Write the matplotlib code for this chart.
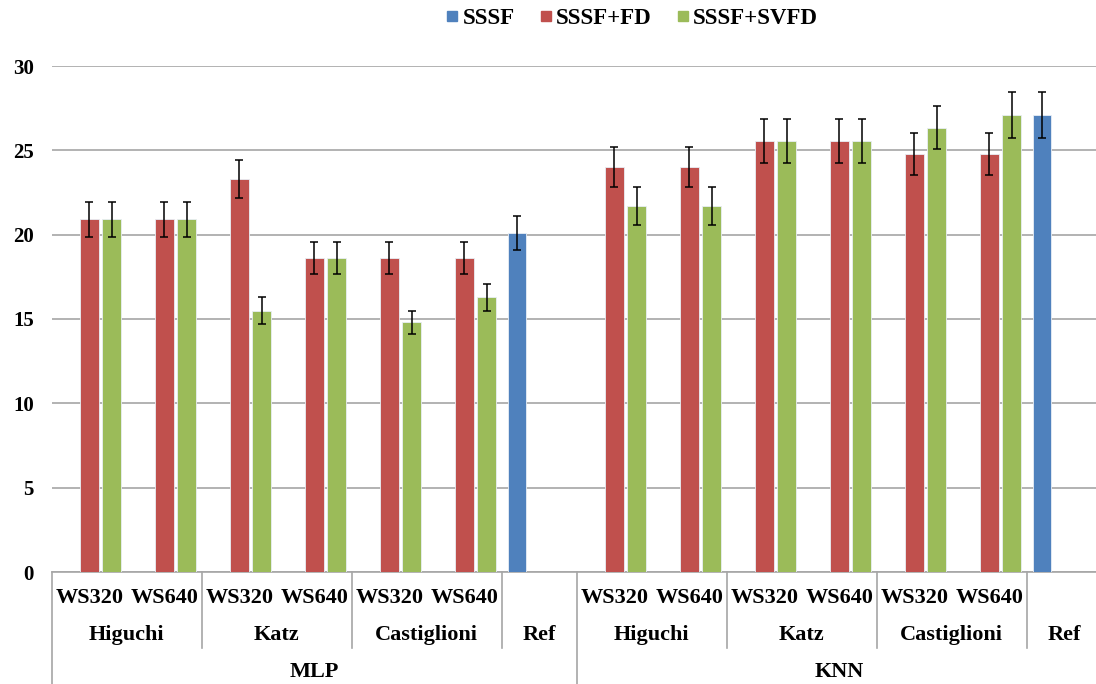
import numpy as np
import matplotlib.pyplot as plt
from matplotlib.lines import Line2D
from matplotlib.transforms import blended_transform_factory

plt.rcParams['font.family'] = ['Liberation Serif', 'DejaVu Serif']
plt.rcParams['font.weight'] = 'bold'

nan = np.nan
ws_labels = ['WS320', 'WS640', 'WS320', 'WS640', 'WS320', 'WS640', '',
             'WS320', 'WS640', 'WS320', 'WS640', 'WS320', 'WS640', '']
methods = ['Higuchi', 'Katz', 'Castiglioni', 'Ref']
method_spans = [2, 2, 2, 1]
classifiers = ['MLP', 'KNN']

sssf = [nan, nan, nan, nan, nan, nan, 20.1, nan, nan, nan, nan, nan, nan, 27.1]
sssf_err = [nan, nan, nan, nan, nan, nan, 1.0, nan, nan, nan, nan, nan, nan, 1.35]
fd = [20.9, 20.9, 23.3, 18.6, 18.6, 18.6, nan, 24.0, 24.0, 25.55, 25.55, 24.8, 24.8, nan]
fd_err = [1.05, 1.05, 1.1, 0.95, 0.95, 0.95, nan, 1.2, 1.2, 1.3, 1.3, 1.25, 1.25, nan]
svfd = [20.9, 20.9, 15.5, 18.6, 14.8, 16.3, nan, 21.7, 21.7, 25.55, 25.55, 26.35, 27.1, nan]
svfd_err = [1.05, 1.05, 0.8, 0.95, 0.7, 0.8, nan, 1.1, 1.1, 1.3, 1.3, 1.3, 1.35, nan]

series = [('SSSF', sssf, sssf_err, '#4F81BD'),
          ('SSSF+FD', fd, fd_err, '#C0504D'),
          ('SSSF+SVFD', svfd, svfd_err, '#9BBB59')]

fig = plt.figure(figsize=(10.96, 6.84), dpi=100)
ax = fig.add_axes([51.8 / 1096, 112 / 684, 1050 / 1096, 506 / 684])

x = np.arange(len(ws_labels))
step = 0.297
width = 0.247
for k, (name, vals, errs, col) in enumerate(series):
    ax.bar(x + (k - 1) * step, vals, width, color=col, edgecolor='#e8eef5',
           linewidth=0.6, zorder=3)
    ax.errorbar(x + (k - 1) * step, vals, yerr=errs, fmt='none', ecolor='black',
                elinewidth=1.1, capsize=3, capthick=1.1, zorder=4)

ax.set_xlim(-0.5, len(ws_labels) - 0.5)
ax.set_ylim(0, 30)
ax.set_yticks(range(0, 31, 5))
ax.set_xticks([])
ax.tick_params(axis='y', length=0, pad=13, labelsize=15)
ax.grid(axis='y', color='#A6A6A6', linewidth=1.2, zorder=0)
for s in ['left', 'top', 'right']:
    ax.spines[s].set_visible(False)
ax.spines['bottom'].set_color('#A6A6A6')
ax.spines['bottom'].set_linewidth(1.2)

# multi-level category axis
tr = blended_transform_factory(ax.transData, ax.transAxes)
line_kw = dict(color='#A6A6A6', linewidth=1.2, transform=tr, clip_on=False)
for i, lab in enumerate(ws_labels):
    ax.text(i, -0.052, lab, transform=tr, ha='center', va='center', fontsize=16)

pos = -0.5
for c, cls in enumerate(classifiers):
    start = pos
    ax.plot([pos, pos], [0, -0.23], **line_kw)
    for m, span in zip(methods, method_spans):
        if pos != start:
            ax.plot([pos, pos], [0, -0.15], **line_kw)
        ax.text(pos + span / 2, -0.125, m, transform=tr, ha='center', va='center',
                fontsize=16)
        pos += span
    ax.text((start + pos) / 2, -0.198, cls, transform=tr, ha='center', va='center',
            fontsize=16)

handles = [Line2D([], [], marker='s', linestyle='none', markersize=7,
                  markerfacecolor=col, markeredgecolor=col)
           for _, _, _, col in series]
fig.legend(handles, [s[0] for s in series], loc='center', ncol=3,
           bbox_to_anchor=(631 / 1096, 1 - 18 / 684), frameon=False,
           fontsize=16.5, handletextpad=0.1, columnspacing=1.0, handlelength=0.7)

fig.savefig('out.png', dpi=100)
